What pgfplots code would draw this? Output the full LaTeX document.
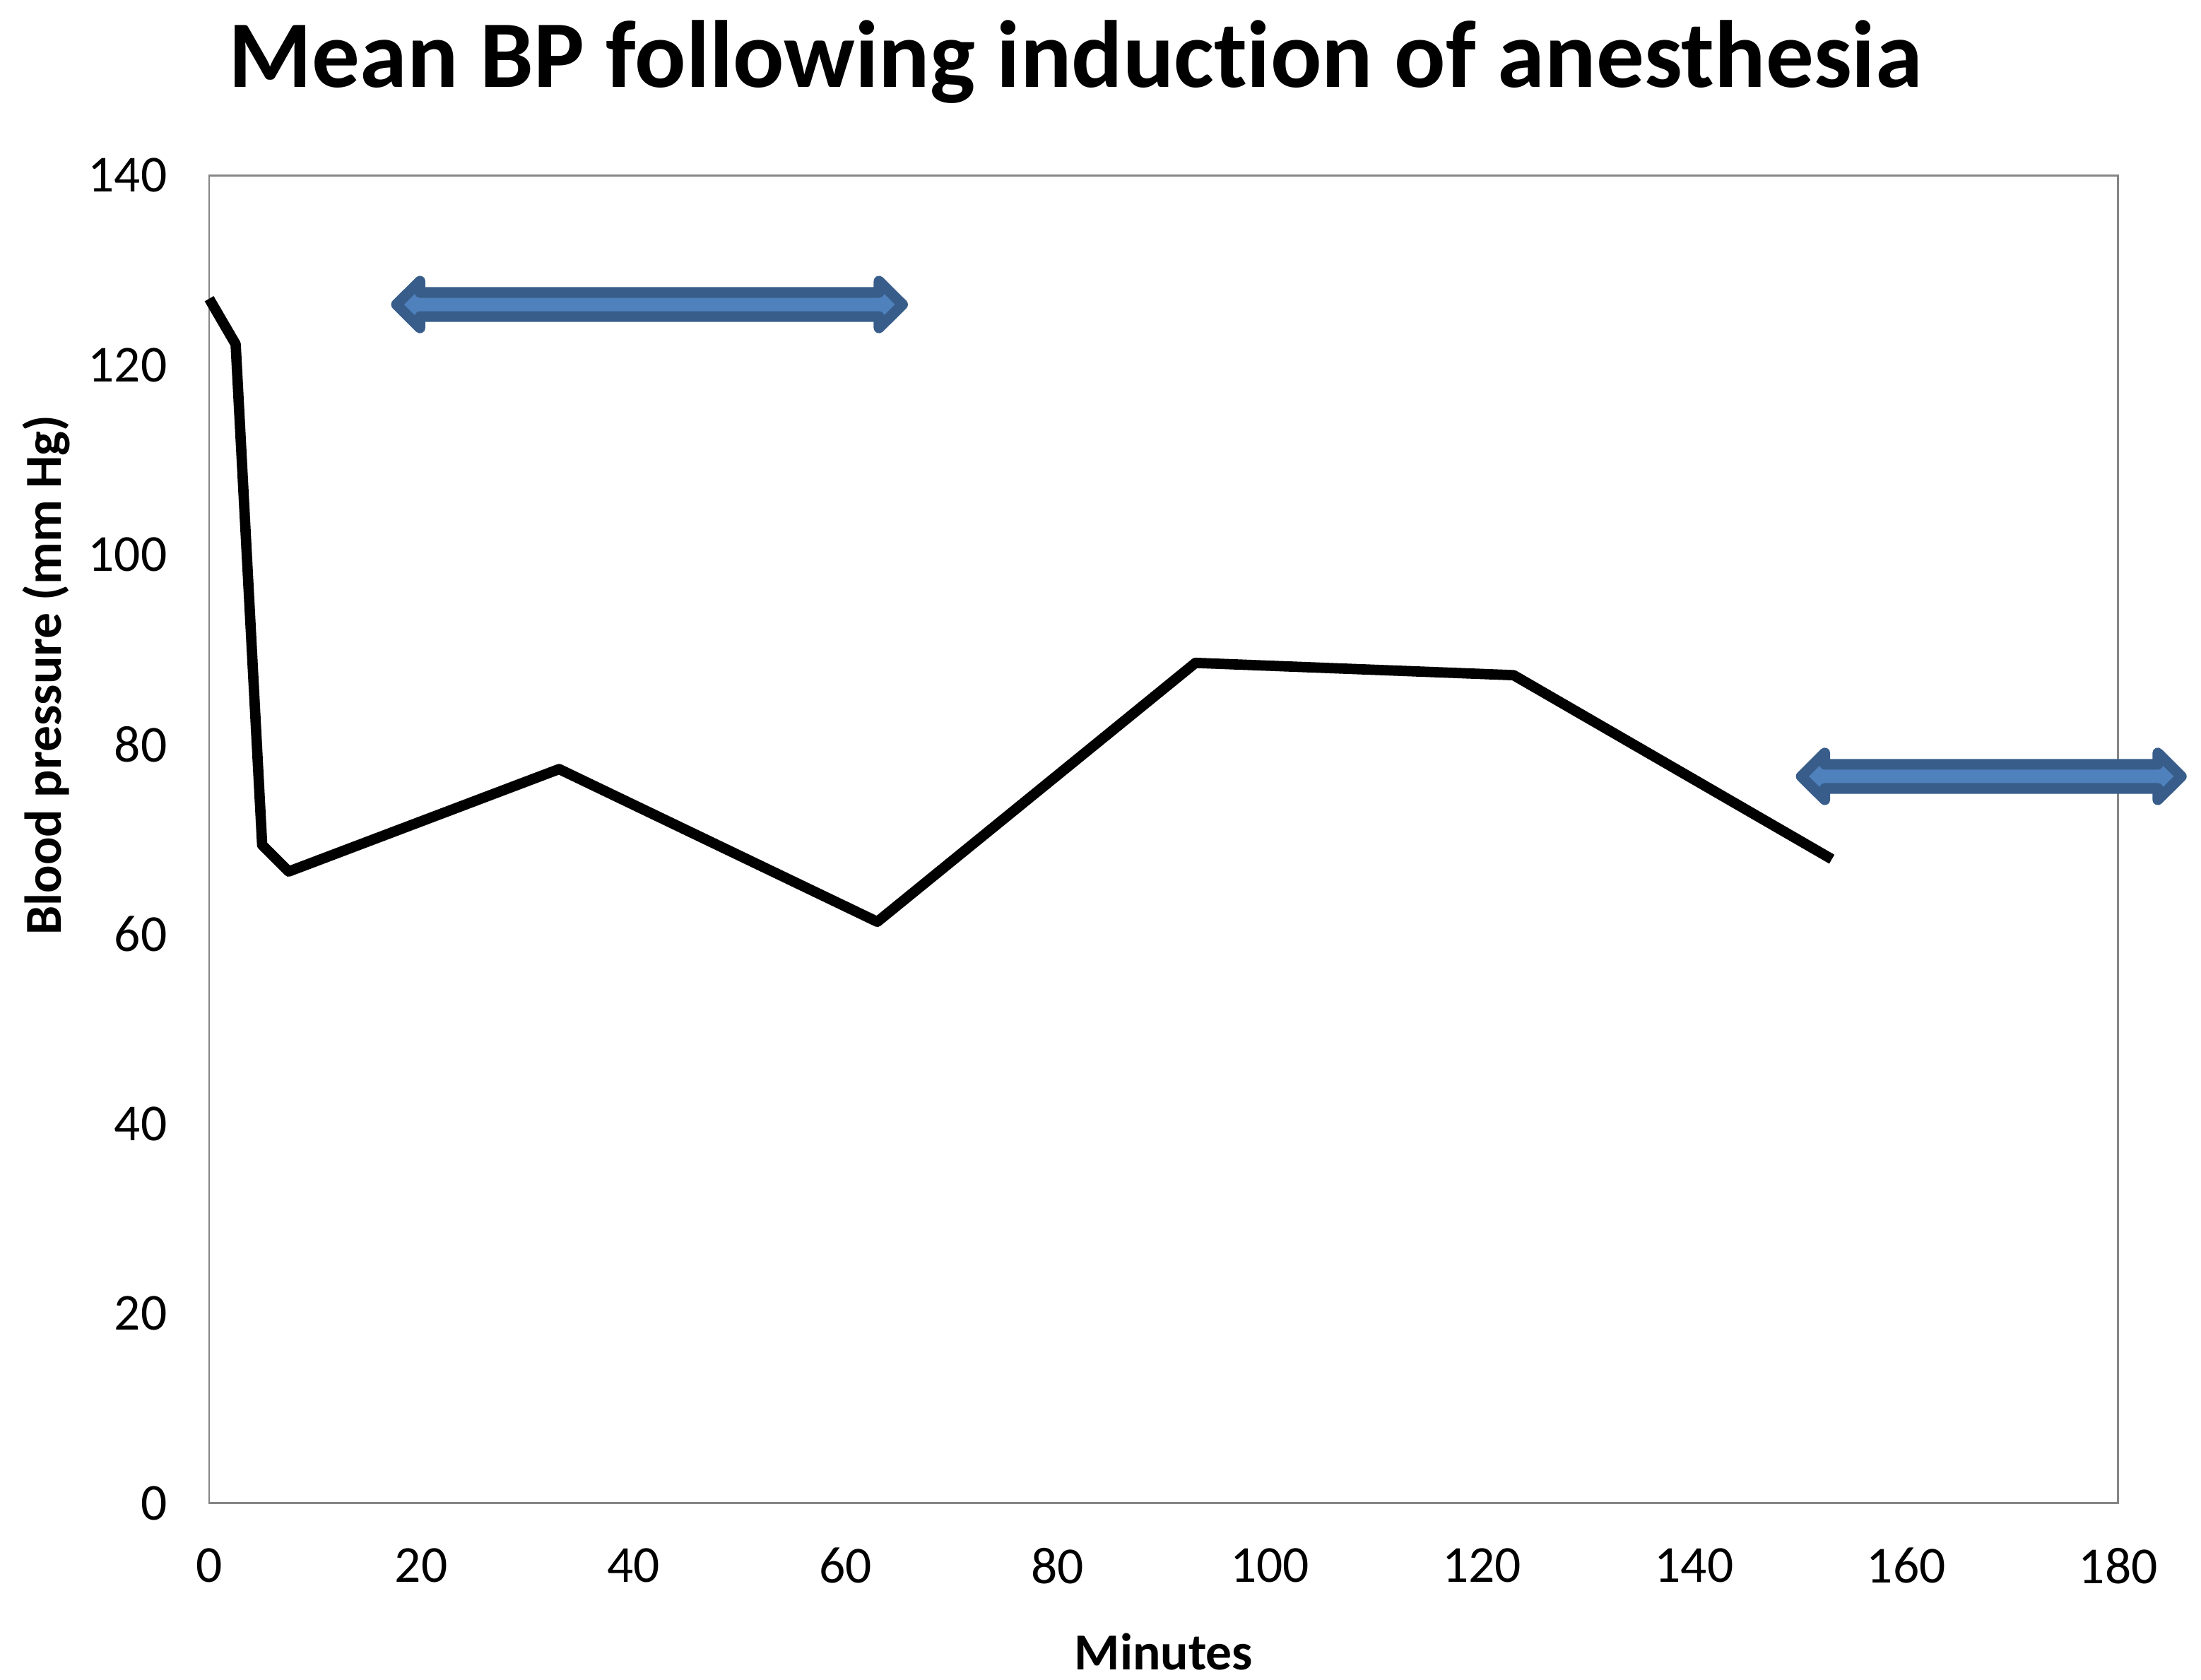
\documentclass[border=0pt]{standalone}
\usepackage{fontspec}
\setmainfont{Carlito}[Ligatures=NoCommon]
\usepackage{pgfplots}
\pgfplotsset{compat=1.18}
\definecolor{framegray}{HTML}{868686}
\definecolor{arrowfill}{HTML}{4F81BD}
\definecolor{arrowline}{HTML}{385D8A}
\pgfplotstableread{
t bp
0 127.0
2.5 122.2
5 69.4
7.5 66.6
33 77.4
63 61.3
93 88.6
123 87.3
153 67.9
}\bpdata
\newcommand{\dblarrow}[3]{% left tip, right tip, centre y (pt, relative to axis origin)
  \filldraw[fill=arrowfill, draw=arrowline, line width=3.8pt, line join=round]
    (#1,#3) -- ++(8.4pt,8.35pt) -- ++(0,-4.05pt) -- (#2-8.4pt,#3+4.3pt) -- ++(0,4.05pt)
    -- (#2,#3) -- ++(-8.4pt,-8.35pt) -- ++(0,4.05pt) -- (#1+8.4pt,#3-4.3pt) -- ++(0,-4.05pt) -- cycle;
}
\begin{document}
\begin{tikzpicture}
\begin{axis}[
  name=ax,
  scale only axis,
  width=680pt, height=473pt,
  xmin=0, xmax=180, ymin=0, ymax=140,
  xtick={0,20,...,180}, ytick={0,20,...,140},
  major tick length=0pt,
  axis line style={draw=framegray, line width=0.75pt},
  tick style={draw=none},
  /pgf/number format/assume math mode=true,
  tick label style={font=\fontsize{18.5}{22}\selectfont},
  yticklabel style={xshift=-11.5pt},
  xticklabel style={yshift=-12.5pt},
  clip=false,
]
\addplot[black, line width=3.7pt, line join=round] table[x=t, y=bp] {\bpdata};
\end{axis}
\begin{scope}[shift={(ax.south west)}]
  \dblarrow{66.7pt}{247pt}{427pt}
  \dblarrow{567.1pt}{702.5pt}{258.9pt}
  \node[anchor=base, font=\fontsize{34}{40}\selectfont\bfseries] at (308.5pt,504.5pt) {Mean BP following induction of anesthesia};
  \node[rotate=90, font=\fontsize{18.5}{22}\selectfont\bfseries] at (-58pt,295pt) {Blood pressure (mm Hg)};
  \node[font=\fontsize{18.5}{22}\selectfont\bfseries] at (340pt,-53pt) {Minutes};
\end{scope}
\pgfresetboundingbox
\path ([shift={(-74.5pt,-63pt)}]ax.south west) rectangle ([shift={(709.5pt,535.5pt)}]ax.south west);
\end{tikzpicture}
\end{document}
